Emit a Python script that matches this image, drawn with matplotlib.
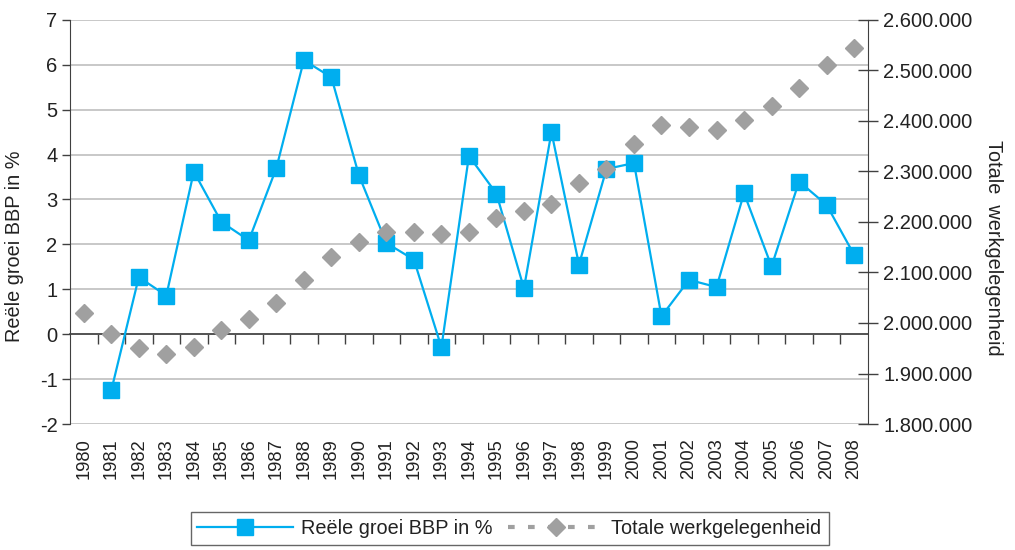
import numpy as np
import matplotlib
matplotlib.use("Agg")
import matplotlib.pyplot as plt
from matplotlib.lines import Line2D
from matplotlib.ticker import FuncFormatter

plt.rcParams['font.family'] = ['Liberation Sans', 'DejaVu Sans']
plt.rcParams['axes.unicode_minus'] = False

jaren = list(range(1980, 2009))
# reele groei BBP in % (geen waarde voor 1980)
groei = [np.nan, -1.25, 1.27, 0.86, 3.62, 2.50, 2.09, 3.70, 6.10, 5.72,
         3.54, 2.03, 1.66, -0.29, 3.97, 3.13, 1.02, 4.50, 1.55, 3.68,
         3.81, 0.40, 1.21, 1.05, 3.14, 1.51, 3.40, 2.88, 1.77]
# totale werkgelegenheid
werk = [2020000, 1978000, 1950000, 1939000, 1952000, 1987000, 2008000, 2039000,
        2085000, 2130000, 2160000, 2180000, 2180000, 2177000, 2180000, 2207000,
        2222000, 2236000, 2277000, 2304000, 2354000, 2391000, 2387000, 2382000,
        2401000, 2430000, 2465000, 2511000, 2544000]

blauw = '#00AEEF'
grijs = '#A0A0A0'
donker = '#404040'
tekst = '#222222'

fig = plt.figure(figsize=(10.15, 5.5), dpi=100)
ax = fig.add_axes([0.069, 0.229, 0.786, 0.735])
x = np.arange(len(jaren))

ax.plot(x, groei, color=blauw, lw=1.6, marker='s', ms=11, zorder=3)
ax.set_xlim(-0.5, len(jaren) - 0.5)
ax.set_ylim(-2, 7)
ax.set_yticks(range(-2, 8))
ax.grid(axis='y', color='#C4C4C4', lw=1.3)
ax.set_axisbelow(True)
ax.tick_params(axis='y', direction='out', length=6, width=1, color=donker,
               labelsize=14.5, colors=tekst, pad=3)
ax.set_ylabel('Reële groei BBP in %', fontsize=14.3, color=tekst, va='center')
ax.yaxis.set_label_coords(-0.069, 0.44)

# categorie-as op y=0, jaartallen onderaan
ax.spines['top'].set_visible(False)
ax.spines['bottom'].set_position(('data', 0))
ax.spines['bottom'].set_color(donker)
ax.spines['bottom'].set_linewidth(1.2)
ax.spines['left'].set_color(donker)
ax.spines['right'].set_visible(False)
ax.set_xticks(np.arange(0.5, len(jaren) - 1, 1))
ax.tick_params(axis='x', direction='out', length=7, width=1, color=donker,
               labelbottom=False)
sec = ax.secondary_xaxis('bottom')
sec.set_xticks(x, [str(j) for j in jaren], rotation=90)
sec.tick_params(length=0, labelsize=13.2, colors=tekst, pad=10)
sec.spines['bottom'].set_visible(False)

ax2 = ax.twinx()
ax2.plot(x, werk, ls='none', marker='D', ms=9.5, color=grijs, zorder=4)
ax2.set_ylim(1800000, 2600000)
ax2.set_yticks(range(1800000, 2600001, 100000))
ax2.yaxis.set_major_formatter(FuncFormatter(lambda v, p: f"{int(v):,}".replace(',', '.')))
ax2.tick_params(axis='y', direction='inout', length=14, width=1, color=donker,
                labelsize=14.5, colors=tekst, pad=4)
for s in ['top', 'left', 'bottom']:
    ax2.spines[s].set_visible(False)
ax2.spines['right'].set_color(donker)
ax2.set_ylabel('Totale  werkgelegenheid', fontsize=14.3, color=tekst,
               rotation=270, va='center')
ax2.yaxis.set_label_coords(1.157, 0.436)

h1 = Line2D([], [], color=blauw, lw=1.6, marker='s', ms=11)
h2 = Line2D([], [], color=grijs, lw=3, marker='D', ms=9.5, dashes=(1.6, 3.2))
leg = fig.legend([h1, h2], ['Reële groei BBP in %', 'Totale werkgelegenheid'],
                 loc='upper center', bbox_to_anchor=(0.502, 0.069), ncol=2,
                 fontsize=14.3, frameon=True, fancybox=False, handlelength=4.8,
                 handletextpad=0.4, columnspacing=0.8, borderpad=0.35,
                 borderaxespad=0, numpoints=1)
leg.get_frame().set_edgecolor(donker)
leg.get_frame().set_linewidth(1)
for t in leg.get_texts():
    t.set_color(tekst)

fig.savefig('out.png', dpi=100)
